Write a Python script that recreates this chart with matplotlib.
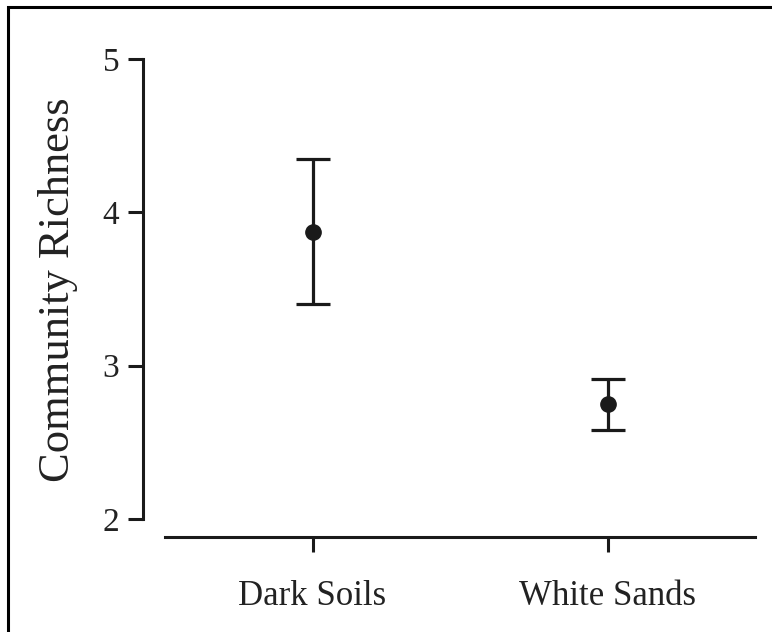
import matplotlib
matplotlib.use("Agg")
import matplotlib.pyplot as plt
from matplotlib.patches import Rectangle

plt.rcParams["font.family"] = ["Liberation Serif", "DejaVu Serif"]

# Data
groups = ["Dark Soils", "White Sands"]
means = [3.87, 2.75]
upper = [4.35, 2.91]
lower = [3.40, 2.58]

yerr = [[m - lo for m, lo in zip(means, lower)], [up - m for m, up in zip(means, upper)]]
xpos = list(range(len(groups)))

W, H = 772, 632
fig = plt.figure(figsize=(W / 100, H / 100), dpi=100)
ax = fig.add_axes([165 / W, 1 - 519 / H, (755 - 165) / W, (519 - 59) / H])

ax.errorbar(xpos, means, yerr=yerr, fmt="o", color="#1a1a1a", ms=11,
            elinewidth=2.3, capsize=12.5, capthick=2.3, clip_on=False)

ax.set_xlim(-0.5, 1.5)
ax.set_ylim(2, 5)
ax.set_yticks([2, 3, 4, 5])
ax.set_xticks(xpos)
ax.set_xticklabels(groups)

for side in ("top", "right"):
    ax.spines[side].set_visible(False)
ax.spines["left"].set_position(("outward", 16))
ax.spines["bottom"].set_position(("outward", 13))
for side in ("left", "bottom"):
    ax.spines[side].set_linewidth(2.2)
    ax.spines[side].set_color("#1a1a1a")

ax.tick_params(axis="both", length=11, width=2.2, color="#1a1a1a")
ax.tick_params(axis="y", labelsize=24, pad=6, labelcolor="#222222")
ax.tick_params(axis="x", labelsize=25, pad=20, labelcolor="#222222")

fig.text(58 / W, 1 - 290 / H, "Community Richness", rotation=90,
         ha="center", va="center", fontsize=32, color="#222222")

# frame around the figure (only left and top edges fall inside the image)
fig.add_artist(Rectangle((8 / W, -0.1), 1.2, 1.1 - 7 / H, transform=fig.transFigure,
                         fill=False, lw=2.2, edgecolor="black", clip_on=False))

fig.savefig("out.png", dpi=100)
